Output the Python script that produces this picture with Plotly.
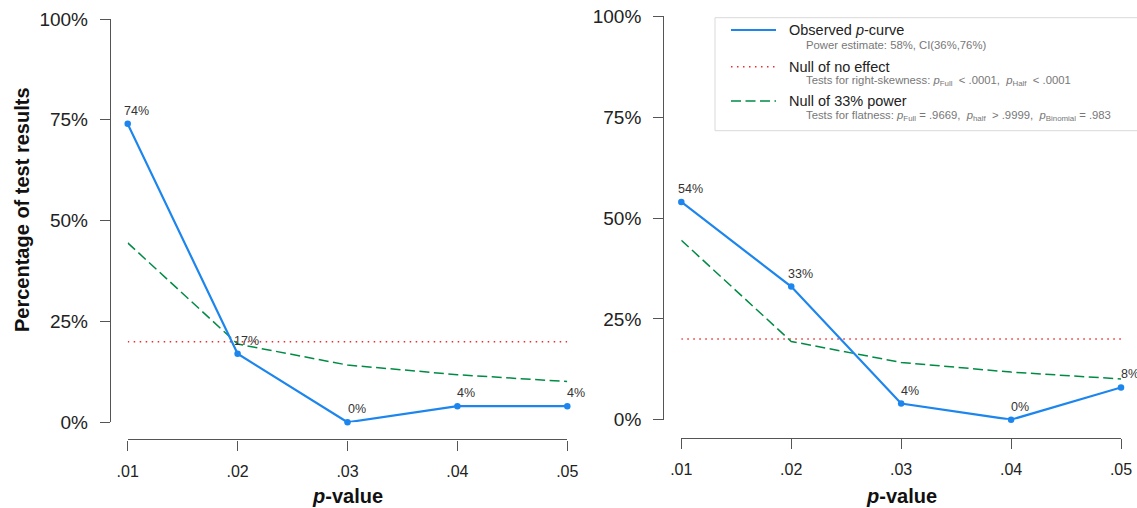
import plotly.graph_objects as go

# p-value bins shown on the x axis
p_bins = [0.01, 0.02, 0.03, 0.04, 0.05]
p_tick_text = [".01", ".02", ".03", ".04", ".05"]
pct_ticks = [0, 25, 50, 75, 100]
pct_tick_text = ["0%", "25%", "50%", "75%", "100%"]

# Observed p-curves (percentage of significant results per bin)
observed_left = [74, 17, 0, 4, 4]
observed_right = [54, 33, 4, 0, 8]

# Reference curves
null_no_effect = [20, 20, 20, 20, 20]
null_33_power = [44.5, 19.4, 14.2, 11.8, 10.1]

# Legend text
legend_main = ["Observed <i>p</i>-curve", "Null of no effect", "Null of 33% power"]
legend_sub = [
    "Power estimate: 58%, CI(36%,76%)",
    "Tests for right-skewness: <i>p</i><sub>Full</sub> &nbsp;&lt; .0001, &nbsp;<i>p</i><sub>Half</sub> &nbsp;&lt; .0001",
    "Tests for flatness: <i>p</i><sub>Full</sub> = .9669, &nbsp;<i>p</i><sub>half</sub> &nbsp;&gt; .9999, &nbsp;<i>p</i><sub>Binomial</sub> = .983",
]

W, H = 1137, 508
FONT = "Liberation Sans, Arial, Helvetica, sans-serif"
BLUE = "#1C86EE"
RED = "#EE2C2C"
GREEN = "#008B45"
AXIS = "#555555"


def px(x):
    return x / W


def py(y):
    return 1 - y / H


fig = go.Figure()

panels = [
    ("x", "y", observed_left),
    ("x2", "y2", observed_right),
]

for xa, ya, obs in panels:
    fig.add_trace(go.Scatter(
        x=p_bins, y=null_no_effect, xaxis=xa, yaxis=ya, mode="lines",
        line=dict(color=RED, width=1.5, dash="1.5px,4.5px"),
        showlegend=False, cliponaxis=False, hoverinfo="skip"))
    fig.add_trace(go.Scatter(
        x=p_bins, y=null_33_power, xaxis=xa, yaxis=ya, mode="lines",
        line=dict(color=GREEN, width=1.5, dash="10px,4.5px"),
        showlegend=False, cliponaxis=False, hoverinfo="skip"))
    fig.add_trace(go.Scatter(
        x=p_bins, y=obs, xaxis=xa, yaxis=ya, mode="lines+markers",
        line=dict(color=BLUE, width=2.2),
        marker=dict(color=BLUE, size=6.5),
        showlegend=False, cliponaxis=False, hoverinfo="skip"))
    for xv, yv in zip(p_bins, obs):
        fig.add_annotation(
            x=xv, y=yv, xref=xa, yref=ya, text=f"{yv:.0f}%", showarrow=False,
            xshift=9, yshift=13, font=dict(family=FONT, size=12.5, color="#333333"))
    fig.add_annotation(
        x=0.03, y=py(496), xref=xa, yref="paper", text="<b><i>p</i>-value</b>",
        showarrow=False, xanchor="center", yanchor="middle",
        font=dict(family=FONT, size=20, color="#111111"))

# y axis title (left panel only)
fig.add_annotation(
    x=px(22), y=py(210), xref="paper", yref="paper", textangle=-90,
    text="<b>Percentage of test results</b>", showarrow=False,
    xanchor="center", yanchor="middle",
    font=dict(family=FONT, size=20, color="#111111"))

x_common = dict(
    range=[0.01, 0.05], tickvals=p_bins, ticktext=p_tick_text, anchor="free",
    ticks="outside", ticklen=10, tickwidth=1.4, tickcolor=AXIS,
    ticklabelstandoff=7,
    showline=True, linecolor=AXIS, linewidth=1.4, showgrid=False, zeroline=False,
    tickfont=dict(family=FONT, size=16, color="#222222"), automargin=False,
    fixedrange=True)
y_common = dict(
    range=[0, 100], tickvals=pct_ticks, ticktext=pct_tick_text, anchor="free",
    ticks="outside", ticklen=10, tickwidth=1.4, tickcolor=AXIS,
    ticklabelstandoff=8,
    showline=True, linecolor=AXIS, linewidth=1.4, showgrid=False, zeroline=False,
    tickfont=dict(family=FONT, size=19, color="#222222"), automargin=False,
    fixedrange=True)

fig.update_layout(
    width=W, height=H, template="none",
    margin=dict(l=0, r=0, t=0, b=0),
    paper_bgcolor="white", plot_bgcolor="white",
    showlegend=False,
    xaxis=dict(x_common, domain=[px(127.7), px(567.3)], position=py(439.3)),
    yaxis=dict(y_common, domain=[py(422.3), py(19)], position=px(110)),
    xaxis2=dict(x_common, domain=[px(681.3), px(1121)], position=py(437.5)),
    yaxis2=dict(y_common, domain=[py(419.7), py(16.4)], position=px(663.3)),
)

# Legend box for the right panel
fig.add_shape(type="rect", xref="paper", yref="paper",
              x0=px(715), x1=px(1142), y0=py(130.7), y1=py(17.7),
              line=dict(color="#d9d9d9", width=1), fillcolor="rgba(0,0,0,0)")

legend_styles = [
    dict(color=BLUE, width=2.2, dash="solid"),
    dict(color=RED, width=1.5, dash="1.5px,4.5px"),
    dict(color=GREEN, width=1.5, dash="10px,4.5px"),
]
main_y = [30, 66.7, 101]
sub_y = [45.5, 81, 116]
for style, my, sy, main, sub in zip(legend_styles, main_y, sub_y, legend_main, legend_sub):
    fig.add_shape(type="line", xref="paper", yref="paper",
                  x0=px(731), x1=px(776), y0=py(my), y1=py(my), line=style)
    fig.add_annotation(x=px(787), y=py(my), xref="paper", yref="paper", text=main,
                       showarrow=False, xanchor="left", yanchor="middle",
                       font=dict(family=FONT, size=14.5, color="#222222"))
    fig.add_annotation(x=px(804), y=py(sy), xref="paper", yref="paper", text=sub,
                       showarrow=False, xanchor="left", yanchor="middle",
                       font=dict(family=FONT, size=11.3, color="#777777"))

fig.write_html("out.html")
